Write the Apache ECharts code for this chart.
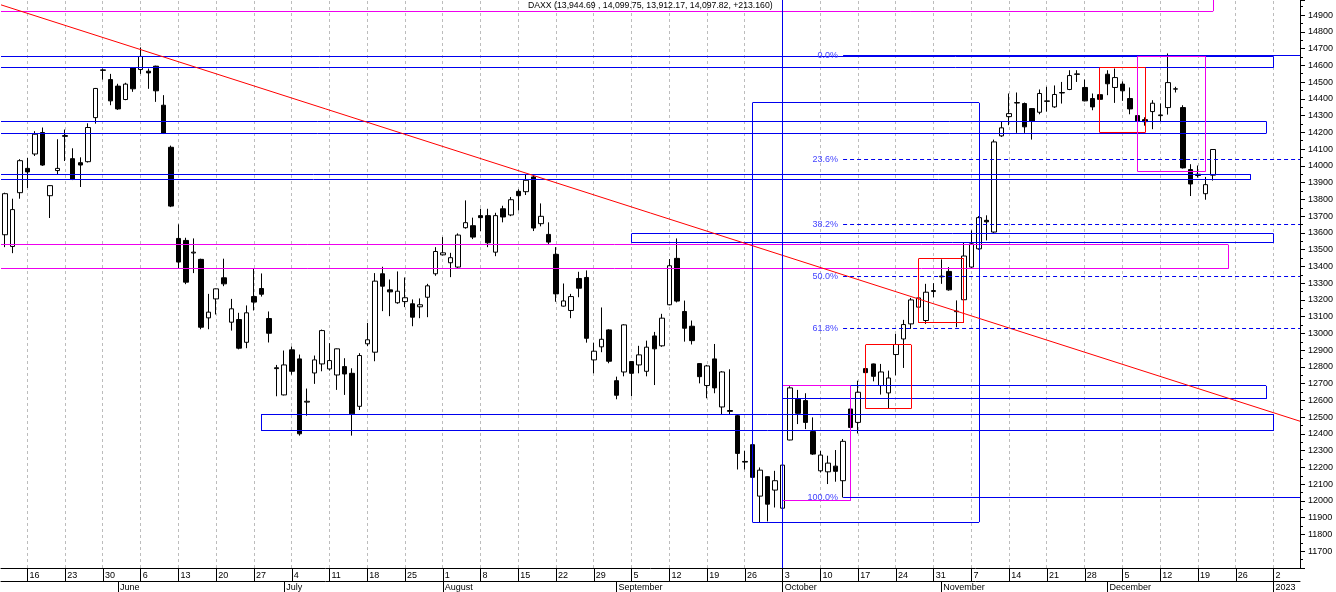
<!DOCTYPE html>
<html><head><meta charset="utf-8">
<script src="https://cdn.jsdelivr.net/npm/echarts@6/dist/echarts.min.js"></script>
<style>html,body{margin:0;padding:0;background:#fff}#c{width:1336px;height:592px}</style>
</head><body><div id="c"></div>
<script>
const FONT = '"Liberation Sans", Arial, sans-serif';
const N = 172; // weekday slots on the date axis (May 11 2022 .. Jan 5 2023)
const categories = [];
{ let t = Date.UTC(2022, 4, 11); while (categories.length < N) { const d = new Date(t); const w = d.getUTCDay(); if (w !== 0 && w !== 6) categories.push(d.toISOString().slice(0, 10)); t += 86400000; } }

const titleText = 'DAXX (13,944.69 , 14,099.75, 13,912.17, 14,097.82, +213.160)';

const opens = [
13589,13519,13840,13985,14071,14199,13822,13972,14176,14043,
14019,14025,14288,14570,14515,14476,14396,14585,14575,14565,
14595,14362,14111,13567,13555,13480,13442,13093,13206,13332,
13067,13083,12947,13220,13268,13089,12795,12633,12902,12848,
12590,12764,12818,12788,12752,12802,12762,12565,12938,12888,
13356,13260,13183,13190,13177,13159,13216,13356,13469,13422,
13396,13631,13643,13703,13703,13485,13744,13707,13848,13846,
13934,13655,13591,13472,13163,13137,13328,13334,12842,12920,
13021,12718,12770,12832,12812,12774,12985,12926,13171,13448,
13131,13043,12820,12689,12848,12561,12540,12509,12236,12336,
12029,12145,12065,11957,12364,12607,12599,12414,12180,12174,
12208,12121,12549,12469,12790,12818,12689,12645,12874,12967,
13057,13157,13077,13250,13338,13370,13130,13201,13396,13505,
13675,13605,14179,14294,14375,14372,14342,14320,14385,14352,
14435,14456,14546,14468,14402,14425,14547,14468,14488,14402,
14300,14276,14324,14300,14348,14458,14348,13978,13950,13834,
13944.69];
const highs = [
13840,13804,14040,14047,14207,14229,13885,14159,14217,14105,
14051,14254,14465,14581,14549,14490,14496,14590,14707,14581,
14598,14422,14121,13651,13571,13567,13446,13236,13268,13446,
13206,13123,13167,13386,13358,13131,12812,12898,12922,12874,
12671,12868,13023,12942,12910,12852,12792,12882,13063,13360,
13398,13322,13370,13334,13203,13209,13296,13515,13575,13481,
13597,13794,13691,13744,13744,13720,13762,13814,13860,13950,
13942,13776,13663,13515,13298,13236,13368,13376,12945,13155,
13025,12742,13055,12835,12926,12957,13009,13117,13444,13567,
13196,13077,12822,12812,12937,12775,12786,12519,12300,12338,
12200,12147,12180,12216,12685,12663,12643,12499,12300,12270,
12304,12370,12552,12718,12800,12820,12818,12778,12997,13081,
13212,13250,13296,13300,13442,13396,13197,13541,13615,13700,
13705,14157,14262,14432,14438,14378,14345,14456,14472,14480,
14501,14571,14571,14515,14432,14475,14571,14581,14504,14468,
14305,14290,14392,14372,14671,14472,14362,14010,14002,13934,
14099.75];
const lows = [
13515,13479,13804,13868,14059,14000,13689,13950,14029,13915,
13874,14020,14252,14515,14362,14334,14392,14442,14549,14460,
14382,14190,13754,13388,13294,13360,13025,13025,13113,13282,
13017,12905,12912,13137,13220,12946,12625,12630,12754,12390,
12509,12699,12774,12778,12663,12633,12390,12543,12924,12834,
13133,13103,13177,13157,13043,13091,13097,13344,13465,13336,
13388,13625,13563,13611,13515,13461,13663,13700,13734,13826,
13611,13639,13531,13189,13160,13091,13216,12945,12762,12888,
12822,12607,12744,12625,12762,12744,12692,12920,13168,13185,
12951,12934,12702,12613,12643,12519,12519,12188,12188,12101,
11871,11878,11961,11955,12362,12459,12429,12275,12170,12101,
12115,12021,12435,12403,12760,12714,12635,12551,12750,12794,
13027,13077,13057,13216,13296,13255,13037,13198,13390,13500,
13555,13600,14173,14243,14197,14197,14157,14308,14324,14346,
14372,14452,14501,14385,14332,14370,14422,14376,14388,14308,
14250,14240,14219,14262,14306,14438,13984,13820,13930,13798,
13912.17];
const closes = [
13834,13739,14031,13964,14189,14005,13882,13985,14181,13920,
14005,14229,14462,14573,14388,14340,14488,14460,14653,14555,
14448,14195,13760,13426,13306,13485,13037,13127,13266,13296,
13147,12912,13123,13187,13234,13001,12790,12812,12774,12401,
12595,12842,13017,12838,12908,12758,12520,12868,12962,13312,
13282,13248,13252,13213,13097,13171,13284,13489,13481,13452,
13587,13661,13575,13691,13541,13703,13695,13798,13822,13914,
13629,13699,13545,13236,13194,13220,13270,12971,12894,12965,
12834,12631,13051,12762,12872,12918,12908,13091,13404,13193,
13031,12957,12742,12806,12675,12770,12535,12284,12232,12141,
12184,11981,12121,12214,12675,12523,12469,12280,12274,12226,
12177,12356,12439,12649,12766,12744,12770,12734,12934,13053,
13200,13212,13246,13256,13342,13260,13133,13462,13535,13691,
13666,14143,14227,14312,14378,14233,14268,14432,14388,14426,
14438,14539,14549,14388,14352,14397,14490,14527,14448,14340,
14266,14264,14374,14304,14497,14460,13988,13892,13943,13888,
14097.82];

const monthNames = ['January','February','March','April','May','June','July','August','September','October','November','December'];

// annotations: [startDate | null (before chart), endDate, lowPrice, highPrice | null (above chart), colour]
const boxes = [
  [null, '2023-01-02', 14587, 14651, 'blue'],
  [null, '2022-12-30', 14193, 14266, 'blue'],
  [null, '2022-12-28', 13918, 13948, 'blue'],
  [null, '2022-12-23', 13386, 13529, 'magenta'],
  ['2022-09-05', '2023-01-02', 13541, 13595, 'blue'],
  ['2022-06-28', '2023-01-02', 12418, 12519, 'blue'],
  ['2022-10-03', '2022-12-30', 12609, 12687, 'blue'],
  ['2022-09-27', '2022-11-08', 11874, 14376, 'blue'],
  ['2022-10-03', '2022-10-14', 12001, 12687, 'magenta'],
  ['2022-10-18', '2022-10-26', 12551, 12932, 'red'],
  ['2022-10-27', '2022-11-04', 13063, 13446, 'red'],
  ['2022-11-30', '2022-12-08', 14199, 14587, 'red'],
  ['2022-12-07', '2022-12-20', 13966, 14655, 'magenta'],
  [null, '2022-12-21', 14924, null, 'magenta']
];
const trendLine = [[-0.5, 14961], [N - 0.5, 12476]]; // [slot index, price]
const vLineDate = '2022-10-03';
const fibStart = '2022-10-13';
const fibHigh = 14661, fibLow = 12021;
const fibLevels = [0, 23.6, 38.2, 50, 61.8, 100];

const COLORS = { blue: '#0000ee', magenta: '#ee00ee', red: '#ff0000', grid: '#bcbcbc' };
const FIBTXT = '#4444ff';
const Y_MIN = 11600, Y_MAX = 14990, X_LEFT = -0.5, X_RIGHT = N - 0.5;

const dow = i => new Date(categories[i] + 'T00:00:00Z').getUTCDay();
const isMonday = i => dow(i) === 1;
const isMonthStart = i => i > 0 && categories[i].slice(5, 7) !== categories[i - 1].slice(5, 7);
const monthLabel = v => { const m = +v.slice(5, 7); return m === 1 ? v.slice(0, 4) : monthNames[m - 1]; };
const ix = d => categories.indexOf(d);

// segment list: [x1, y1, x2, y2, colourKey, dash, label]
const segs = [];
const gridSegs = [];
categories.forEach((c, i) => { if (isMonday(i)) gridSegs.push([i, Y_MIN, i, Y_MAX, 'grid', [3, 3], null]); });
boxes.forEach(([s, e, lo, hi, c]) => {
  const x1 = s ? ix(s) : X_LEFT, x2 = ix(e);
  const top = hi == null ? Y_MAX : hi;
  if (hi != null) segs.push([x1, hi, x2, hi, c, null, null]);
  segs.push([x1, lo, x2, lo, c, null, null]);
  segs.push([x2, lo, x2, top, c, null, null]);
  if (s) segs.push([x1, lo, x1, top, c, null, null]);
});
segs.push([trendLine[0][0], trendLine[0][1], trendLine[1][0], trendLine[1][1], 'red', null, null]);
segs.push([ix(vLineDate), Y_MIN, ix(vLineDate), Y_MAX, 'blue', null, null]);
fibLevels.forEach(r => {
  const v = fibHigh - r / 100 * (fibHigh - fibLow);
  segs.push([ix(fibStart), v, X_RIGHT, v, 'blue', (r === 0 || r === 100) ? null : [4, 3], r.toFixed(1) + '%']);
});

const ohlc = opens.map((o, i) => [o, closes[i], lows[i], highs[i]]);

const snap = v => Math.round(v - 0.5) + 0.5;
function segSeries(list, z) {
  return {
    type: 'custom', xAxisIndex: 2, yAxisIndex: 0, silent: true, z: z, clip: true,
    data: list.map(s => [s[0], s[1], s[2], s[3]]),
    encode: { x: [0, 2], y: [1, 3] },
    renderItem: function (params, api) {
      const s = list[params.dataIndex];
      const p1 = api.coord([s[0], s[1]]), p2 = api.coord([s[2], s[3]]);
      if (s[1] === s[3]) { p1[1] = p2[1] = snap(p1[1]); }
      if (s[0] === s[2]) { p1[0] = p2[0] = snap(p1[0]); }
      const children = [{
        type: 'line', silent: true,
        shape: { x1: p1[0], y1: p1[1], x2: p2[0], y2: p2[1] },
        style: { stroke: COLORS[s[4]], lineWidth: 1, lineDash: s[5] || null, fill: null }
      }];
      if (s[6]) children.push({
        type: 'text', silent: true,
        style: { text: s[6], x: p1[0] - 5, y: p1[1], align: 'right', verticalAlign: 'middle', fill: FIBTXT, fontSize: 9, fontFamily: FONT }
      });
      return { type: 'group', children: children };
    }
  };
}

const chart = echarts.init(document.getElementById('c'), null, { renderer: 'canvas' });
chart.setOption({
  animation: false,
  backgroundColor: '#ffffff',
  title: { text: titleText, left: 528, top: 1, padding: 0, textStyle: { fontSize: 8.7, fontWeight: 'normal', color: '#000', fontFamily: FONT } },
  grid: { left: 1, right: 36, top: 0, bottom: 24, containLabel: false, outerBoundsMode: 'none' },
  xAxis: [
    {
      type: 'category', data: categories, boundaryGap: true, position: 'bottom',
      axisLine: { show: true, onZero: false, lineStyle: { color: '#000', width: 1 } },
      axisTick: { show: true, alignWithLabel: true, length: 13, interval: i => isMonday(i), lineStyle: { color: '#000' } },
      axisLabel: { show: true, interval: i => isMonday(i), formatter: v => String(parseInt(v.slice(8), 10)), align: 'left', padding: [0, 0, 0, 2], margin: 3, color: '#000', fontSize: 9, fontFamily: FONT },
      splitLine: { show: false }
    },
    {
      type: 'category', data: categories, boundaryGap: true, position: 'bottom', offset: 13,
      axisLine: { show: true, onZero: false, lineStyle: { color: '#000', width: 1 } },
      axisTick: { show: true, alignWithLabel: true, length: 11, interval: i => isMonthStart(i), lineStyle: { color: '#000' } },
      axisLabel: { show: true, interval: i => isMonthStart(i), formatter: v => monthLabel(v), align: 'left', padding: [0, 0, 0, 2], margin: 2, color: '#000', fontSize: 9, fontFamily: FONT },
      splitLine: { show: false }
    },
    { type: 'value', min: X_LEFT, max: X_RIGHT, show: false, position: 'top', axisLine: { onZero: false }, splitLine: { show: false } }
  ],
  yAxis: {
    type: 'value', position: 'right', min: Y_MIN, max: Y_MAX, interval: 100,
    axisLine: { show: true, onZero: false, lineStyle: { color: '#000', width: 1 } },
    axisTick: { show: true, length: 5, lineStyle: { color: '#000' } },
    minorTick: { show: true, splitNumber: 2, length: 3, lineStyle: { color: '#000' } },
    splitLine: { show: false }, minorSplitLine: { show: false },
    axisLabel: { margin: 8, color: '#000', fontSize: 9, fontFamily: FONT, formatter: v => (v % 100 === 0 && v > Y_MIN) ? String(v) : '' }
  },
  series: [
    segSeries(gridSegs, 1),
    {
      type: 'candlestick', xAxisIndex: 0, yAxisIndex: 0, data: ohlc, barWidth: 5, silent: true, z: 2,
      itemStyle: { color: '#ffffff', color0: '#000000', borderColor: '#000000', borderColor0: '#000000', borderColorDoji: '#000000', borderWidth: 1 },
      emphasis: { disabled: true }
    },
    segSeries(segs, 5)
  ]
});
</script>
</body></html>
